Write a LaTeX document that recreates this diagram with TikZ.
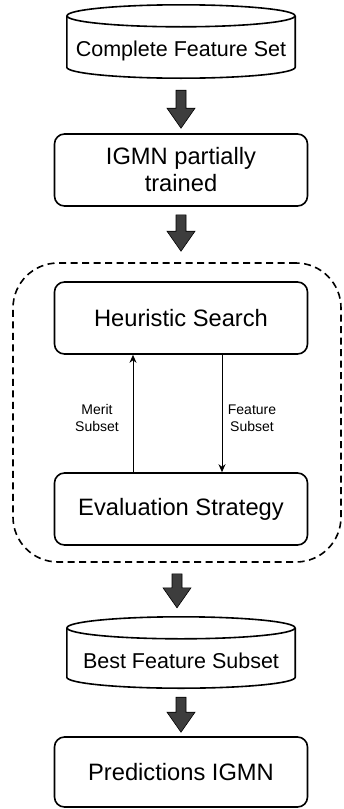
\documentclass[tikz,border=0pt]{standalone}
\usepackage{fontspec}
\setmainfont{Liberation Sans}
\usetikzlibrary{calc,arrows.meta}
\newcommand{\blockarrow}[4]{%
  \path ($(#1)+(0,#3)$) coordinate (ba-s) ($(#1 |- #2)+(0,-#4)$) coordinate (ba-t);
  \draw[blockarr] ($(ba-s)+(-5,0)$) -- ($(ba-t)+(-5,-20)$) -- ($(ba-t)+(-14,-20)$) -- (ba-t)
    -- ($(ba-t)+(14,-20)$) -- ($(ba-t)+(5,-20)$) -- ($(ba-s)+(5,0)$) -- cycle;}
\newcommand{\cylinderoutline}[1]{%
  \draw[cylline] ($(#1.north)+(0,11)$) ellipse [x radius=114, y radius=11];
  \draw[cylline] ($(#1.north west)+(0,11)$) -- ($(#1.south west)+(0,-11)$)
    .. controls ($(#1.south west)+(0,-4.92)$) and ($(#1.south)+(-63,0)$) .. (#1.south)
    .. controls ($(#1.south)+(63,0)$) and ($(#1.south east)+(0,-4.92)$) .. ($(#1.south east)+(0,-11)$)
    -- ($(#1.north east)+(0,11)$);}
\begin{document}
\begin{tikzpicture}[x=1pt,y=-1pt,
  box/.style={draw, line width=1.6pt, rounded corners=10pt, minimum width=253pt,
    minimum height=72pt, align=center, inner sep=0pt,
    font=\fontsize{23.7}{27}\selectfont},
  cylbody/.style={minimum width=228pt, minimum height=73pt, inner sep=0pt},
  cyltext/.style={font=\fontsize{21.5}{25}\selectfont, inner sep=0pt},
  cylline/.style={line width=1.6pt},
  grpbox/.style={draw, line width=1.6pt, dash pattern=on 7pt off 4.5pt,
    rounded corners=45pt, minimum width=328pt, minimum height=299pt, inner sep=0pt},
  blockarr/.style={fill=black!76, draw=black, line width=0.6pt},
  thinarr/.style={line width=0.9pt, -{Stealth[length=8pt,width=7pt]}},
  lbl/.style={align=center, inner sep=0pt, font=\fontsize{14}{17}\selectfont}
]
\useasboundingbox (0,0) rectangle (343,809);

% cylinder 1
\node[cylbody] (c1) at (181,41.5) {};
\cylinderoutline{c1}
\node[cyltext] (c1-label) at ($(c1.center)+(0,9)$) {Complete Feature Set};

\node[box] (igmn) at (181,170) {IGMN partially\\trained};

\node[grpbox] (grp) at (177,412.5) {};
\node[box] (hs) at (181,318) {Heuristic Search};
\node[box] (ev) at (181,509) {Evaluation Strategy};

% cylinder 2
\node[cylbody, minimum height=71pt] (c2) at (181,652.5) {};
\cylinderoutline{c2}
\node[cyltext] (c2-label) at ($(c2.center)+(0,8)$) {Best Feature Subset};

\node[box, minimum height=70pt] (pr) at (181,772) {Predictions IGMN};

% block arrows
\blockarrow{c1.south}{igmn.north}{12}{5}
\blockarrow{igmn.south}{grp.north}{8}{11}
\blockarrow{grp.south}{c2.north}{11}{9}
\blockarrow{c2.south}{pr.north}{9}{4}

% inner arrows
\draw[thinarr] ([xshift=-48pt]ev.north) -- ([xshift=-48pt]hs.south);
\draw[thinarr] ([xshift=41pt]hs.south) -- ([xshift=41pt]ev.north);
\node[lbl] (ml) at (97,418) {Merit\\Subset};
\node[lbl] (fl) at (252,418) {Feature\\Subset};
\end{tikzpicture}
\end{document}
